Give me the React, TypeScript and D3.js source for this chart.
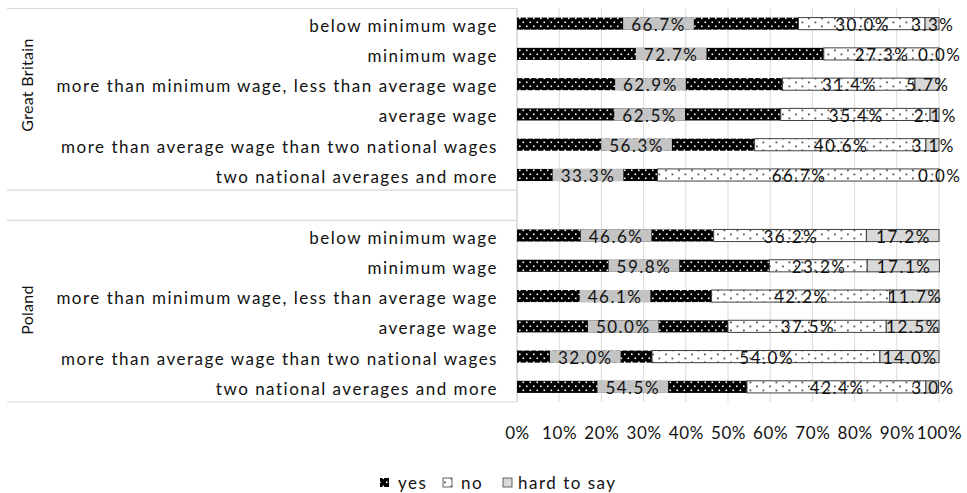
import React, { useEffect, useRef } from 'react';
import * as d3 from 'd3';

// row labels, top to bottom within each country
const incomeGroups = [
  'below minimum wage',
  'minimum wage',
  'more than minimum wage, less than average wage',
  'average wage',
  'more than average wage than two national wages',
  'two national averages and more',
];
const countries = ['Great Britain', 'Poland'];
const answers = ['yes', 'no', 'hard to say'];

// percentages per row
const gbYes = [66.7, 72.7, 62.9, 62.5, 56.3, 33.3];
const gbNo = [30.0, 27.3, 31.4, 35.4, 40.6, 66.7];
const gbHard = [3.3, 0.0, 5.7, 2.1, 3.1, 0.0];
const plYes = [46.6, 59.8, 46.1, 50.0, 32.0, 54.5];
const plNo = [36.2, 23.2, 42.2, 37.5, 54.0, 42.4];
const plHard = [17.2, 17.1, 11.7, 12.5, 14.0, 3.0];

const xTicks = [0, 10, 20, 30, 40, 50, 60, 70, 80, 90, 100];

const FONT = 'Lato, "Open Sans", sans-serif';
const FS = 17;
const LS = 1.5;

const App = () => {
  const svgRef = useRef<SVGSVGElement>(null);

  useEffect(() => {
    const svg = d3.select(svgRef.current);
    svg.selectAll('*').remove();

    const left = 517;
    const right = 939;
    const top = 8.5;
    const bottom = 402;

    // GB block, an empty spacer row, Poland block
    const rows: any[] = [];
    incomeGroups.forEach((g, i) =>
      rows.push({ key: 'gb' + i, label: g, values: [gbYes[i], gbNo[i], gbHard[i]] })
    );
    rows.push({ key: 'gap', label: '', values: null });
    incomeGroups.forEach((g, i) =>
      rows.push({ key: 'pl' + i, label: g, values: [plYes[i], plNo[i], plHard[i]] })
    );

    const x = d3.scaleLinear().domain([0, 100]).range([left, right]);
    const y = d3.scaleBand().domain(rows.map(r => r.key)).range([top, bottom]).paddingInner(0.6).paddingOuter(0.3);
    const band = d3.scaleBand().domain(rows.map(r => r.key)).range([top, bottom]);

    // patterns
    const defs = svg.append('defs');
    const pYes = defs.append('pattern').attr('id', 'pYes').attr('patternUnits', 'userSpaceOnUse')
      .attr('width', 7).attr('height', 8);
    pYes.append('rect').attr('width', 7).attr('height', 8).attr('fill', '#000');
    pYes.append('rect').attr('x', 1).attr('y', 1.5).attr('width', 1.6).attr('height', 1.6).attr('fill', '#fff');
    pYes.append('rect').attr('x', 4.5).attr('y', 5.5).attr('width', 1.6).attr('height', 1.6).attr('fill', '#fff');

    const pNo = defs.append('pattern').attr('id', 'pNo').attr('patternUnits', 'userSpaceOnUse')
      .attr('width', 13).attr('height', 8);
    pNo.append('rect').attr('width', 13).attr('height', 8).attr('fill', '#fff');
    pNo.append('rect').attr('x', 2).attr('y', 1.5).attr('width', 1.8).attr('height', 1.8).attr('fill', '#555');
    pNo.append('rect').attr('x', 8.5).attr('y', 5.5).attr('width', 1.8).attr('height', 1.8).attr('fill', '#555');

    const fills = ['url(#pYes)', 'url(#pNo)', '#d9d9d9'];
    const strokes = ['none', '#404040', '#404040'];

    // gridlines
    svg.append('g').selectAll('line').data(xTicks).join('line')
      .attr('x1', d => x(d)).attr('x2', d => x(d))
      .attr('y1', top).attr('y2', bottom)
      .attr('stroke', '#d9d9d9').attr('stroke-width', 1);

    // category frame lines
    const frameYs = [top, band('gap')!, band('gap')! + band.bandwidth(), bottom];
    svg.append('g').selectAll('line').data(frameYs).join('line')
      .attr('x1', 7).attr('x2', left).attr('y1', d => d).attr('y2', d => d)
      .attr('stroke', '#d9d9d9').attr('stroke-width', 1.2);
    svg.append('line').attr('x1', left).attr('x2', left).attr('y1', top).attr('y2', bottom)
      .attr('stroke', '#d9d9d9').attr('stroke-width', 1.2);

    // bars
    const dataRows = rows.filter(r => r.values);
    const segs: any[] = [];
    dataRows.forEach(r => {
      let acc = 0;
      r.values.forEach((v: number, k: number) => {
        segs.push({ key: r.key, k, v, x0: acc, x1: acc + v });
        acc += v;
      });
    });

    svg.append('g').selectAll('rect').data(segs.filter(s => s.v > 0)).join('rect')
      .attr('x', d => x(d.x0)).attr('width', d => x(d.x1) - x(d.x0))
      .attr('y', d => y(d.key)!).attr('height', y.bandwidth())
      .attr('fill', d => fills[d.k]).attr('stroke', d => strokes[d.k]).attr('stroke-width', 1);

    // data labels
    const lab = svg.append('g').attr('font-family', FONT).attr('font-size', FS)
      .attr('letter-spacing', LS).attr('fill', '#111');
    segs.forEach(s => {
      const cx = (x(s.x0) + x(s.x1)) / 2 + LS / 2;
      const cy = y(s.key)! + y.bandwidth() / 2;
      const txt = s.v.toFixed(1) + '%';
      if (s.k === 0) {
        const g = lab.append('g');
        const box = g.append('rect').attr('fill', '#c4c4c4');
        const t = g.append('text').attr('x', cx).attr('y', cy).attr('dy', '0.42em')
          .attr('text-anchor', 'middle').text(txt);
        const w = (t.node() as SVGTextElement).getComputedTextLength();
        box.attr('x', cx - w / 2 - 8).attr('width', w + 16).attr('y', y(s.key)!).attr('height', y.bandwidth());
      } else {
        lab.append('text').attr('x', cx).attr('y', cy).attr('dy', '0.42em')
          .attr('text-anchor', 'middle').text(txt);
      }
    });

    // row labels
    svg.append('g').attr('font-family', FONT).attr('font-size', FS).attr('letter-spacing', LS).attr('fill', '#111')
      .selectAll('text').data(dataRows).join('text')
      .attr('x', 498).attr('y', d => band(d.key)! + band.bandwidth() / 2).attr('dy', '0.47em')
      .attr('text-anchor', 'end').text(d => d.label);

    // country labels
    const groupCenters = [85, 310];
    svg.append('g').attr('font-family', FONT).attr('font-size', 16).attr('letter-spacing', 0.3).attr('fill', '#111')
      .selectAll('text').data(countries).join('text')
      .attr('transform', (d, i) => `translate(33,${groupCenters[i]}) rotate(-90)`)
      .attr('text-anchor', 'middle').text(d => d);

    // x axis labels
    const axis = svg.append('g').attr('transform', `translate(0,${bottom})`)
      .call(d3.axisBottom(x).tickValues(xTicks).tickSize(0).tickPadding(0).tickFormat(d => d + '%'));
    axis.select('.domain').remove();
    axis.selectAll('text').attr('font-family', FONT).attr('font-size', FS).attr('letter-spacing', 0.6)
      .attr('fill', '#111').attr('dy', null).attr('y', 37);

    // legend
    const legend = svg.append('g').attr('font-family', FONT).attr('font-size', FS).attr('letter-spacing', LS).attr('fill', '#111');
    const legendX = [380, 443, 503];
    const textX = [398, 461, 518];
    answers.forEach((a, i) => {
      legend.append('rect').attr('x', legendX[i]).attr('y', 478).attr('width', 9).attr('height', 9)
        .attr('fill', fills[i]).attr('stroke', i === 0 ? 'none' : '#404040').attr('stroke-width', 0.8);
      legend.append('text').attr('x', textX[i]).attr('y', 489).text(a);
    });
  }, []);

  return <svg ref={svgRef} width={967} height={493} style={{ position: 'absolute', left: 0, top: 0, background: '#fff' }}></svg>;
};

export default App;
